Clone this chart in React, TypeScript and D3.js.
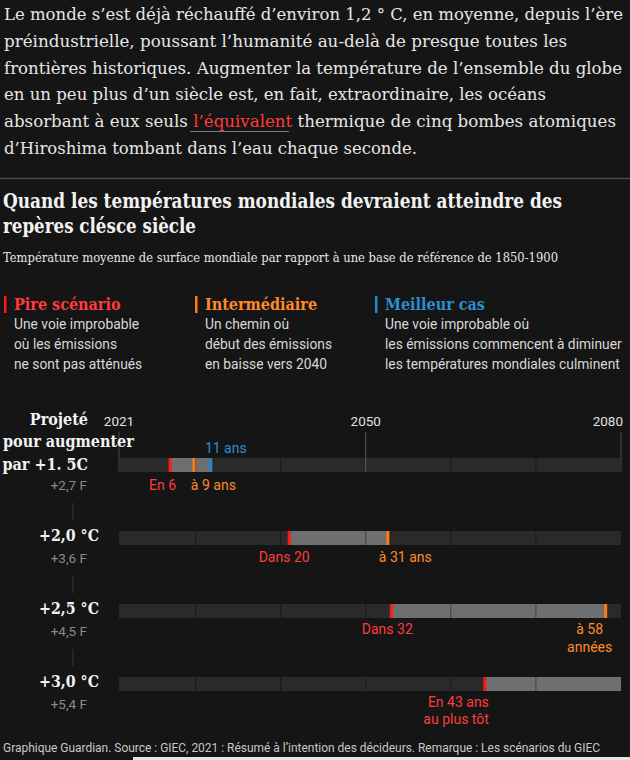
import React from 'react';
import * as d3 from 'd3';

const W = 630;
const H = 760;

const introLines = [
  ['Le monde s’est déjà réchauffé d’environ 1,2 ° C, en moyenne, depuis l’ère'],
  ['préindustrielle, poussant l’humanité au-delà de presque toutes les'],
  ['frontières historiques. Augmenter la température de l’ensemble du globe'],
  ['en un peu plus d’un siècle est, en fait, extraordinaire, les océans'],
  ['absorbant à eux seuls ', 'l’équivalent', ' thermique de cinq bombes atomiques'],
  ['d’Hiroshima tombant dans l’eau chaque seconde.'],
];
const introWidths = [619, 563, 618, 542, 612, 413];

const titleLines = ['Quand les températures mondiales devraient atteindre des', 'repères clésce siècle'];
const titleWidths = [559, 193];
const subtitle = 'Température moyenne de surface mondiale par rapport à une base de référence de 1850-1900';
const footer = 'Graphique Guardian. Source : GIEC, 2021 : Résumé à l’intention des décideurs. Remarque : Les scénarios du GIEC';

const scenarioNames = ['Pire scénario', 'Intermédiaire', 'Meilleur cas'];
const scenarioColors = ['#ff1a1a', '#ff7a12', '#1f86c8'];
const scenarioText = ['#ff3b3b', '#ff8a2a', '#2a90d0'];
const scenarioDesc = [
  ['Une voie improbable', 'où les émissions', 'ne sont pas atténués'],
  ['Un chemin où', 'début des émissions', 'en baisse vers 2040'],
  ['Une voie improbable où', 'les émissions commencent à diminuer', 'les températures mondiales culminent'],
];

const axisYears = [2021, 2050, 2080];
const gridYears = [2030, 2040, 2060, 2070];
const startYear = 2021;
const endYear = 2080;

const thresholdsC = ['+1.5', '+2,0 °C', '+2,5 °C', '+3,0 °C'];
const thresholdsF = ['+2,7 F', '+3,6 F', '+4,5 F', '+5,4 F'];
// years from 2021 at which each threshold is reached
const worstYears = [6, 20, 32, 43];
const midYears: (number | null)[] = [8.8, 31.6, 57.2, null];
const bestYears: (number | null)[] = [10.8, null, null, null];

export default function App() {
  const x = d3.scaleLinear().domain([startYear, endYear]).range([119, 621]);
  const rowTop = d3.scaleLinear().domain([0, 3]).range([458, 677]);
  const barH = 14;

  const serif = "'DejaVu Serif Condensed', 'DejaVu Serif', serif";
  const sans = "Roboto, 'Open Sans', sans-serif";
  const bg = '#151515';

  const annoFont = 14;

  return (
    <svg width={W} height={H} style={{ position: 'absolute', left: 0, top: 0, display: 'block' }}>
      <rect x={0} y={0} width={W} height={H} fill={bg} />

      {/* intro paragraph */}
      {introLines.map((parts, i) => (
        <text
          key={i}
          x={4}
          y={20 + i * 26.8}
          fontFamily={serif}
          fontStretch="condensed"
          fontSize={17.5}
          fill="#e6e6e6"
          textLength={introWidths[i]}
          lengthAdjust="spacingAndGlyphs"
        >
          {parts.map((p, j) => (
            <tspan key={j} fill={j === 1 ? '#ff3a3a' : '#e6e6e6'}>{p}</tspan>
          ))}
        </text>
      ))}
      <line x1={190} x2={289} y1={131.5} y2={131.5} stroke="#777" strokeWidth={1} />

      <line x1={0} x2={W} y1={178.5} y2={178.5} stroke="#4a4a4a" strokeWidth={1.5} />

      {/* title */}
      {titleLines.map((t, i) => (
        <text
          key={i}
          x={3}
          y={208 + i * 25}
          fontFamily={serif}
          fontStretch="condensed"
          fontWeight="bold"
          fontSize={21}
          fill="#f2f2f2"
          textLength={titleWidths[i]}
          lengthAdjust="spacingAndGlyphs"
        >
          {t}
        </text>
      ))}
      <text x={3} y={261.5} fontFamily={serif} fontStretch="condensed" fontSize={13} fill="#e6e6e6" textLength={555} lengthAdjust="spacingAndGlyphs">
        {subtitle}
      </text>

      {/* legend */}
      {scenarioNames.map((name, i) => {
        const lx = [4, 195, 375][i];
        return (
          <g key={name}>
            <rect x={lx} y={296} width={2.5} height={17} fill={scenarioColors[i]} />
            <text x={lx + 10} y={310} fontFamily={serif} fontStretch="condensed" fontWeight="bold" fontSize={16} fill={scenarioText[i]}>
              {name}
            </text>
            {scenarioDesc[i].map((d, j) => (
              <text key={j} x={lx + 10} y={329 + j * 20} fontFamily={sans} fontSize={13.8} fill="#d8d8d8">
                {d}
              </text>
            ))}
          </g>
        );
      })}

      {/* axis labels + tick lines */}
      {axisYears.map((yr, i) => (
        <g key={yr}>
          <text
            x={i === 2 ? x(yr) + 2 : x(yr)}
            y={426}
            textAnchor={i === 2 ? 'end' : 'middle'}
            fontFamily={sans}
            fontSize={13.5}
            fill="#e0e0e0"
          >
            {yr}
          </text>
          <line x1={x(yr)} x2={x(yr)} y1={432} y2={rowTop(0) + barH} stroke={i === 1 ? '#5a5a5a' : '#4a4a4a'} strokeWidth={1} />
        </g>
      ))}

      {/* left vertical connector */}
      {[0, 1, 2].map((i) => (
        <line key={i} x1={73} x2={73} y1={rowTop(i) + 45} y2={rowTop(i + 1) - 11} stroke="#333" strokeWidth={1.2} />
      ))}

      {/* rows */}
      {worstYears.map((w, i) => {
        const top = rowTop(i);
        const candidates = [midYears[i], bestYears[i]].filter((v) => v != null) as number[];
        const hlEnd = candidates.length ? startYear + (d3.max(candidates) as number) : endYear;
        const hlStart = startYear + w;
        return (
          <g key={i}>
            <rect x={x(startYear)} y={top} width={x(endYear) - x(startYear)} height={barH} fill="#2a2a2a" />
            <rect x={x(hlStart)} y={top} width={x(hlEnd) - x(hlStart)} height={barH} fill="#6f6f6f" />
            {gridYears.concat(i === 0 ? [] : [2050]).map((g) => (
              <line key={g} x1={x(g)} x2={x(g)} y1={top} y2={top + barH} stroke="rgba(0,0,0,0.4)" strokeWidth={1} />
            ))}
            {i === 0 && (
              <line x1={x(2050)} x2={x(2050)} y1={top} y2={top + barH} stroke="#5a5a5a" strokeWidth={1} />
            )}
            {[w, midYears[i], bestYears[i]].map((v, k) =>
              v == null ? null : (
                <rect key={k} x={x(startYear + v) - 1.5} y={top} width={3} height={barH} fill={scenarioColors[k]} />
              )
            )}

            {/* left labels */}
            {i === 0 ? (
              <g fontFamily={serif} fontStretch="condensed" fontWeight="bold" fontSize={16} fill="#f2f2f2">
                <text x={88} y={425} textAnchor="end">Projeté</text>
                <text x={3} y={447}>pour augmenter</text>
                <text x={88} y={470} textAnchor="end">par +1. 5C</text>
              </g>
            ) : (
              <text x={99} y={top + 10} textAnchor="end" fontFamily={serif} fontStretch="condensed" fontWeight="bold" fontSize={17} fill="#f2f2f2" textLength={60} lengthAdjust="spacingAndGlyphs">
                {thresholdsC[i]}
              </text>
            )}
            <text x={87} y={top + 32} textAnchor="end" fontFamily={sans} fontSize={13.5} fill="#8a8a8a">
              {thresholdsF[i]}
            </text>
          </g>
        );
      })}

      {/* annotations */}
      <g fontFamily={sans} fontSize={annoFont}>
        <text x={x(startYear + bestYears[0]!) - 6} y={rowTop(0) - 5} fill={scenarioText[2]}>{`${11} ans`}</text>
        <text x={x(startYear + worstYears[0]) + 6} y={rowTop(0) + 32} textAnchor="end" fill={scenarioText[0]}>{`En ${6}`}</text>
        <text x={x(startYear + midYears[0]!) - 3} y={rowTop(0) + 32} fill={scenarioText[1]}>{`à ${9} ans`}</text>

        <text x={x(startYear + worstYears[1]) - 5} y={rowTop(1) + 31} textAnchor="middle" fill={scenarioText[0]}>{`Dans ${20}`}</text>
        <text x={x(startYear + midYears[1]!) - 9} y={rowTop(1) + 31} fill={scenarioText[1]}>{`à ${31} ans`}</text>

        <text x={x(startYear + worstYears[2]) - 4} y={rowTop(2) + 30} textAnchor="middle" fill={scenarioText[0]}>{`Dans ${32}`}</text>
        <text x={x(startYear + midYears[2]!) - 16} y={rowTop(2) + 30} textAnchor="middle" fill={scenarioText[1]}>{`à ${58}`}</text>
        <text x={x(startYear + midYears[2]!) - 16} y={rowTop(2) + 48} textAnchor="middle" fill={scenarioText[1]}>années</text>

        <text x={x(startYear + worstYears[3]) + 4} y={rowTop(3) + 30} textAnchor="end" fill={scenarioText[0]}>{`En ${43} ans`}</text>
        <text x={x(startYear + worstYears[3]) + 4} y={rowTop(3) + 47} textAnchor="end" fill={scenarioText[0]}>au plus tôt</text>
      </g>

      {/* footer */}
      <rect x={133} y={757} width={W - 133} height={3} fill="#e4e4e4" />
      <text x={3} y={752} fontFamily={sans} fontSize={12.5} fill="#c8c8c8" textLength={597} lengthAdjust="spacingAndGlyphs">
        {footer}
      </text>
    </svg>
  );
}
